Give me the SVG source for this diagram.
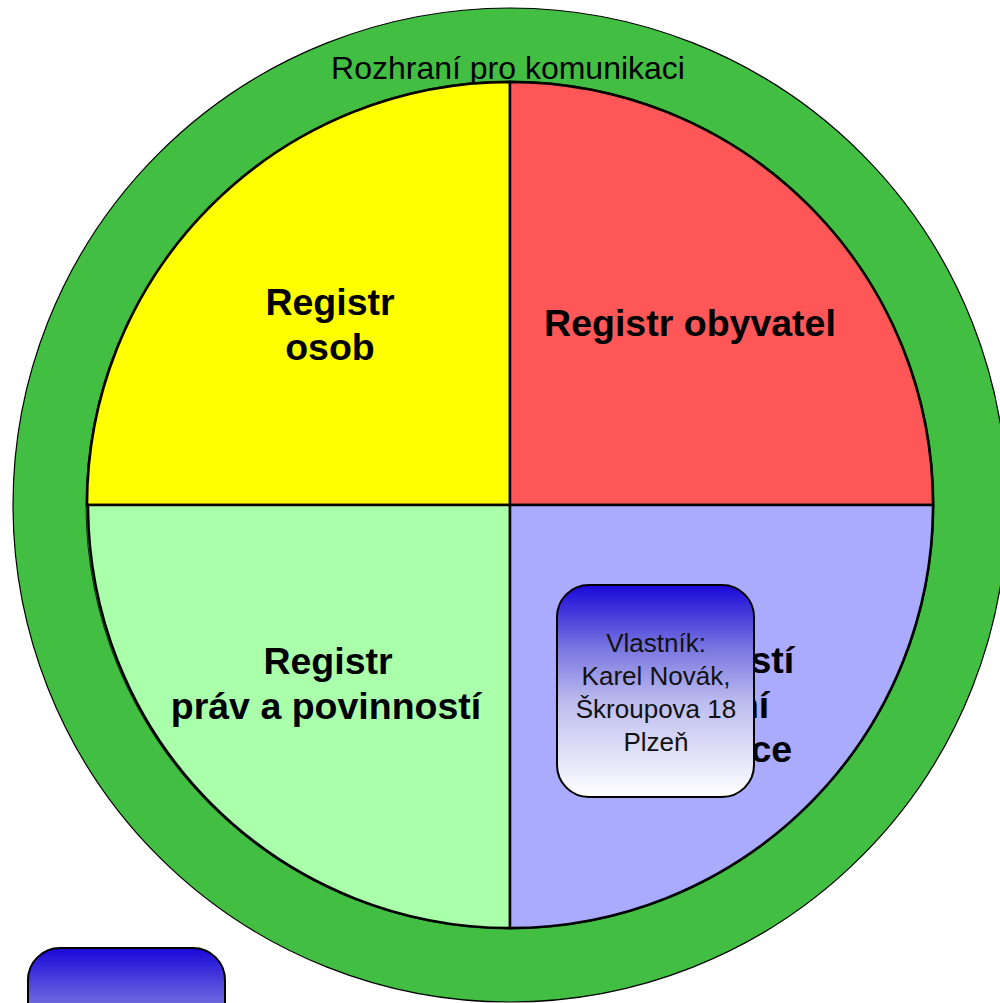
<svg xmlns="http://www.w3.org/2000/svg" width="1000" height="1003" viewBox="0 0 1000 1003">
  <defs>
    <linearGradient id="boxGrad" x1="0" y1="0" x2="0" y2="1">
      <stop offset="0" stop-color="#1a08d8"/>
      <stop offset="0.3" stop-color="#7a76e0"/>
      <stop offset="0.55" stop-color="#bcbcef"/>
      <stop offset="1" stop-color="#ffffff"/>
    </linearGradient>
    <style>
      .wedge { stroke: #000; stroke-width: 2.5; stroke-linejoin: miter; }
      .lbl { font-family: "Liberation Sans", Arial, sans-serif; font-weight: bold; font-size: 37.5px; fill: #000; text-anchor: middle; }
      .title { font-family: "Liberation Sans", Arial, sans-serif; font-size: 32px; fill: #000; text-anchor: middle; }
      .box { fill: url(#boxGrad); stroke: #000; stroke-width: 2; }
      .boxtxt { font-family: "Liberation Sans", Arial, sans-serif; font-size: 26px; fill: #111; text-anchor: middle; }
    </style>
  </defs>
  <rect width="1000" height="1003" fill="#ffffff"/>

  <g id="rozhrani">
    <circle cx="510" cy="505" r="497" fill="#42bf42" stroke="#000" stroke-width="1.2"/>
    <text class="title" x="508" y="79">Rozhraní pro komunikaci</text>
  </g>

  <g id="registr-osob">
    <path class="wedge" fill="#ffff00" d="M510,505 L87,505 A423,423 0 0 1 510,82 Z"/>
    <text class="lbl" x="330" y="315">Registr</text>
    <text class="lbl" x="330" y="360">osob</text>
  </g>

  <g id="registr-obyvatel">
    <path class="wedge" fill="#ff5757" d="M510,505 L510,82 A423,423 0 0 1 933,505 Z"/>
    <text class="lbl" x="690" y="336">Registr obyvatel</text>
  </g>

  <g id="registr-prav">
    <circle cx="510" cy="505" r="424" fill="none" stroke="#000" stroke-width="0.8"/>
    <path class="wedge" fill="#aaffaa" d="M510,505 L510,928 A422,423 0 0 1 88,505 Z"/>
    <text class="lbl" x="328" y="674">Registr</text>
    <text class="lbl" x="326" y="719">práv a povinností</text>
  </g>

  <g id="registr-nemovitosti">
    <path class="wedge" fill="#aaaaff" d="M510,505 L933,505 A423,423 0 0 1 510,928 Z"/>
    <text class="lbl" x="689" y="628">Registr</text>
    <text class="lbl" x="689" y="673">nemovitostí</text>
    <text class="lbl" x="689" y="718">a územní</text>
    <text class="lbl" x="689" y="762">identifikace</text>
  </g>

  <g id="vlastnik">
    <rect class="box" x="557" y="585" width="197" height="212" rx="32" ry="32"/>
    <text class="boxtxt" x="656" y="652">Vlastník:</text>
    <text class="boxtxt" x="656" y="685">Karel Novák,</text>
    <text class="boxtxt" x="656" y="718">Škroupova 18</text>
    <text class="boxtxt" x="656" y="751">Plzeň</text>
  </g>

  <g id="box-2">
    <rect class="box" x="28" y="948" width="197" height="212" rx="32" ry="32"/>
  </g>
</svg>
